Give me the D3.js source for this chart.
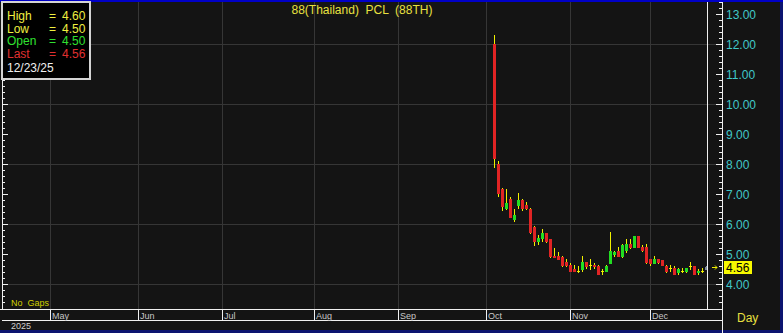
<!DOCTYPE html>
<html><head><meta charset="utf-8">
<script src="https://cdn.jsdelivr.net/npm/d3@7"></script>
<style>html,body{margin:0;padding:0;background:#000;overflow:hidden}</style>
</head><body><svg id="c" width="783" height="333"></svg>
<script>
// ---------------- DATA ----------------
const title = "88(Thailand)  PCL  (88TH)";
const axisStart = "2025-04-15";          // first (empty) slot of the time axis
const dates = [
 "2025-10-03","2025-10-06","2025-10-07","2025-10-08","2025-10-09","2025-10-10",
 "2025-10-14","2025-10-15","2025-10-16","2025-10-17","2025-10-20","2025-10-21",
 "2025-10-22","2025-10-24","2025-10-27","2025-10-28","2025-10-29","2025-10-30","2025-10-31",
 "2025-11-03","2025-11-04","2025-11-05","2025-11-06","2025-11-07","2025-11-10",
 "2025-11-11","2025-11-12","2025-11-13","2025-11-14","2025-11-17","2025-11-18",
 "2025-11-19","2025-11-20","2025-11-21","2025-11-24","2025-11-25","2025-11-26",
 "2025-11-27","2025-11-28",
 "2025-12-01","2025-12-02","2025-12-03","2025-12-04","2025-12-08","2025-12-09",
 "2025-12-11","2025-12-12","2025-12-15","2025-12-16","2025-12-17","2025-12-18",
 "2025-12-19","2025-12-22","2025-12-23"];
const openV  = [12.00,8.00,7.15,6.55,6.85,6.15,6.65,6.80,6.65,6.50,5.90,5.45,5.55,5.70,5.50,4.95,4.95,4.90,4.75,
                4.65,4.50,4.45,4.50,4.75,4.65,4.65,4.60,4.45,4.45,4.70,5.00,5.10,4.95,5.15,5.35,5.25,5.60,5.25,5.25,
                4.85,4.70,4.85,4.80,4.60,4.55,4.55,4.40,4.45,4.45,4.60,4.60,4.40,4.45,4.50];
const highV  = [12.30,8.10,7.20,7.15,6.90,6.50,7.05,6.85,6.75,6.55,5.95,5.65,5.85,5.70,5.50,5.20,5.05,4.95,4.85,
                4.70,4.65,4.60,4.95,4.75,4.85,4.70,4.65,4.50,4.65,5.75,5.10,5.25,5.33,5.50,5.50,5.60,5.60,5.30,5.35,
                4.85,4.95,4.85,4.80,4.65,4.65,4.60,4.55,4.55,4.55,4.75,4.60,4.50,4.55,4.60];
const lowV   = [7.90,6.95,6.45,6.50,6.25,6.10,6.55,6.45,6.50,5.70,5.30,5.35,5.45,5.40,4.90,4.90,4.85,4.60,4.60,
                4.45,4.45,4.40,4.45,4.55,4.50,4.55,4.35,4.35,4.45,4.70,4.95,4.95,4.90,5.05,5.20,5.25,5.25,5.10,4.70,
                4.65,4.70,4.70,4.65,4.40,4.45,4.35,4.35,4.40,4.40,4.50,4.35,4.35,4.40,4.50];
const closeV = [8.20,7.05,6.60,6.70,6.25,6.30,6.80,6.55,6.55,5.75,5.45,5.55,5.70,5.45,4.95,4.90,4.85,4.65,4.65,
                4.45,4.45,4.45,4.75,4.60,4.65,4.60,4.35,4.45,4.60,5.10,5.05,4.95,5.30,5.35,5.25,5.60,5.25,5.15,4.75,
                4.70,4.85,4.75,4.65,4.45,4.55,4.35,4.50,4.45,4.55,4.60,4.35,4.45,4.45,4.56];
const priceLabels = [4,5,6,7,8,9,10,11,12,13];
const gridPrices = [4,6,8,10,12];
const monthNames = ["Jan","Feb","Mar","Apr","May","Jun","Jul","Aug","Sep","Oct","Nov","Dec"];
const legendRows = [["High","=","4.60"],["Low","=","4.50"],["Open","=","4.50"],["Last","=","4.56"]];
const legendDate = "12/23/25";
const lastPrice = 4.56;
const yearLabel = "2025";
const gapLabel = "No  Gaps";
const periodLabel = "Day";

// ---------------- BUILD ----------------
const FONT = "Arial, 'Liberation Sans', sans-serif";
const parse = d3.utcParse("%Y-%m-%d");
// time-axis slots: empty weekday slots before the listing, then the trading days
const slots = [];
for (let d = parse(axisStart); d < parse(dates[0]); d = d3.utcDay.offset(d, 1)) {
  const wd = d.getUTCDay(); if (wd !== 0 && wd !== 6) slots.push(d);
}
const firstIdx = slots.length;
dates.forEach(s => slots.push(parse(s)));
const bars = dates.map((d, i) => ({slot: firstIdx + i, o: openV[i], h: highV[i], l: lowV[i], c: closeV[i]}));

const x = d3.scaleLinear().domain([0, 180]).range([2, 722]);
const y = d3.scaleLinear().domain([4, 13]).range([284, 14]);
const plotTop = 2, plotBottom = 309, bandBottom = 320, axisX = 722;

const svg = d3.select("#c");
svg.append("rect").attr("width", 783).attr("height", 333).attr("fill", "#0c1470");
svg.append("rect").attr("x", 0).attr("y", 0).attr("width", 783).attr("height", 2).attr("fill", "#0000c8");
svg.append("rect").attr("x", 0).attr("y", 2).attr("width", 780).attr("height", 328).attr("fill", "#141414");

svg.append("clipPath").attr("id", "pc").append("rect")
  .attr("x", 2).attr("y", plotTop).attr("width", axisX - 2).attr("height", plotBottom - plotTop);
const plot = svg.append("g").attr("clip-path", "url(#pc)");

// month boundaries
const months = [];
slots.forEach((d, i) => { if (i > 0 && d.getUTCMonth() !== slots[i - 1].getUTCMonth()) months.push({i, name: monthNames[d.getUTCMonth()]}); });

plot.selectAll(".vg").data(months).join("line")
  .attr("x1", d => Math.round(x(d.i)) + 0.5).attr("x2", d => Math.round(x(d.i)) + 0.5)
  .attr("y1", plotTop).attr("y2", plotBottom).attr("stroke", "#363636").attr("stroke-width", 1);
plot.selectAll(".hg").data(gridPrices).join("line")
  .attr("x1", 2).attr("x2", axisX).attr("y1", d => Math.round(y(d)) + 0.5).attr("y2", d => Math.round(y(d)) + 0.5)
  .attr("stroke", "#363636").attr("stroke-width", 1);

// candles
const g = plot.append("g");
bars.forEach(b => {
  const cx = Math.round(x(b.slot));
  const last = b.slot === slots.length - 1;
  g.append("line").attr("x1", cx + 0.5).attr("x2", cx + 0.5)
    .attr("y1", Math.round(y(b.h))).attr("y2", Math.round(y(b.l)) + 1)
    .attr("stroke", last ? "#8898a8" : "#f0f000").attr("stroke-width", 1);
  if (Math.abs(b.o - b.c) < 0.001) {
    g.append("line").attr("x1", cx - 1).attr("x2", cx + 2)
      .attr("y1", Math.round(y(b.c)) + 0.5).attr("y2", Math.round(y(b.c)) + 0.5)
      .attr("stroke", "#f0f000").attr("stroke-width", 1);
  } else {
    const top = Math.round(y(Math.max(b.o, b.c))), bot = Math.round(y(Math.min(b.o, b.c)));
    g.append("rect").attr("x", cx - 1).attr("width", 3)
      .attr("y", top).attr("height", Math.max(1, bot - top + 1))
      .attr("fill", last ? "#7f8fa0" : (b.c > b.o ? "#22dd22" : "#e02424"));
  }
});

// last-bar cursor line
const lastX = Math.round(x(slots.length - 1)) + 1.5;
svg.append("line").attr("x1", lastX).attr("x2", lastX).attr("y1", plotTop).attr("y2", plotBottom)
  .attr("stroke", "#f0f0f0").attr("stroke-width", 1);

// frame lines
svg.append("line").attr("x1", 2.5).attr("x2", 2.5).attr("y1", plotTop).attr("y2", plotBottom).attr("stroke", "#f0f0f0");
svg.append("line").attr("x1", axisX + 0.5).attr("x2", axisX + 0.5).attr("y1", plotTop).attr("y2", 333).attr("stroke", "#f0f0f0");
svg.append("line").attr("x1", 0).attr("x2", axisX).attr("y1", plotBottom + 0.5).attr("y2", plotBottom + 0.5).attr("stroke", "#f0f0f0");
svg.append("line").attr("x1", 2).attr("x2", axisX).attr("y1", bandBottom + 0.5).attr("y2", bandBottom + 0.5).attr("stroke", "#f0f0f0");

// month ticks + labels
svg.selectAll(".mt").data(months).join("line")
  .attr("x1", d => Math.round(x(d.i)) + 0.5).attr("x2", d => Math.round(x(d.i)) + 0.5)
  .attr("y1", plotBottom).attr("y2", bandBottom).attr("stroke", "#f0f0f0");
svg.selectAll(".ml").data(months).join("text")
  .attr("x", d => Math.round(x(d.i)) + 2).attr("y", bandBottom - 1)
  .attr("font-family", FONT).attr("font-size", 9).attr("fill", "#c8c8c8").text(d => d.name);

// axis ticks (left and right)
const minor = d3.range(32, 139, 2).map(v => v / 10);
minor.forEach(p => {
  const yy = Math.round(y(p)) + 0.5;
  if (yy < plotTop || yy > plotBottom - 1) return;
  const major = Math.abs(p - Math.round(p)) < 0.01;
  svg.append("line").attr("x1", axisX - (major ? 6 : 3)).attr("x2", axisX).attr("y1", yy).attr("y2", yy).attr("stroke", "#f0f0f0");
  svg.append("line").attr("x1", 2).attr("x2", major ? 8 : 5).attr("y1", yy).attr("y2", yy).attr("stroke", "#f0f0f0");
});
svg.selectAll(".pl").data(priceLabels).join("text")
  .attr("x", axisX + 4).attr("y", d => y(d) + 4.5)
  .attr("font-family", FONT).attr("font-size", 12).attr("fill", "#40c8c8").text(d => d.toFixed(2));

// current price marker
const ly = y(lastPrice);
svg.append("rect").attr("x", axisX + 2).attr("y", Math.round(ly) - 6).attr("width", 28).attr("height", 13).attr("fill", "#f8f800");
svg.append("text").attr("x", axisX + 4).attr("y", ly + 4.5).attr("font-family", FONT).attr("font-size", 12)
  .attr("fill", "#000").text(lastPrice.toFixed(2));
svg.append("path").attr("d", `M${axisX-10},${Math.round(ly)+0.5}h5m-2,-2l2,2l-2,2`).attr("stroke", "#f0f000").attr("fill", "none");

// texts
svg.append("text").attr("x", 362).attr("y", 14).attr("text-anchor", "middle").attr("font-family", FONT)
  .attr("font-size", 12).attr("fill", "#e8e040").attr("xml:space", "preserve").style("white-space", "pre").text(title);
svg.append("text").attr("x", 11).attr("y", 306).attr("font-family", FONT).attr("font-size", 9)
  .attr("fill", "#d0d000").style("white-space", "pre").text(gapLabel);
svg.append("text").attr("x", 11).attr("y", 329).attr("font-family", FONT).attr("font-size", 9)
  .attr("fill", "#d0d0d0").text(yearLabel);
svg.append("text").attr("x", 737).attr("y", 322).attr("font-family", FONT).attr("font-size", 12)
  .attr("fill", "#e8e040").text(periodLabel);

// legend
svg.append("rect").attr("x", 2).attr("y", 2).attr("width", 88).attr("height", 77)
  .attr("fill", "#000").attr("stroke", "#d4d4d4").attr("stroke-width", 2);
const legColors = ["#f0f040", "#f0f040", "#30e030", "#e03030"];
legendRows.forEach((r, i) => {
  const yy = 20 + i * 12.7;
  svg.append("text").attr("x", 7).attr("y", yy).attr("font-family", FONT).attr("font-size", 12).attr("fill", legColors[i]).text(r[0]);
  svg.append("text").attr("x", 49).attr("y", yy).attr("font-family", FONT).attr("font-size", 12).attr("fill", legColors[i]).text(r[1]);
  svg.append("text").attr("x", 62).attr("y", yy).attr("font-family", FONT).attr("font-size", 12).attr("fill", legColors[i]).text(r[2]);
});
svg.append("text").attr("x", 7).attr("y", 72).attr("font-family", FONT).attr("font-size", 12).attr("fill", "#f0f0f0").text(legendDate);
</script></body></html>
